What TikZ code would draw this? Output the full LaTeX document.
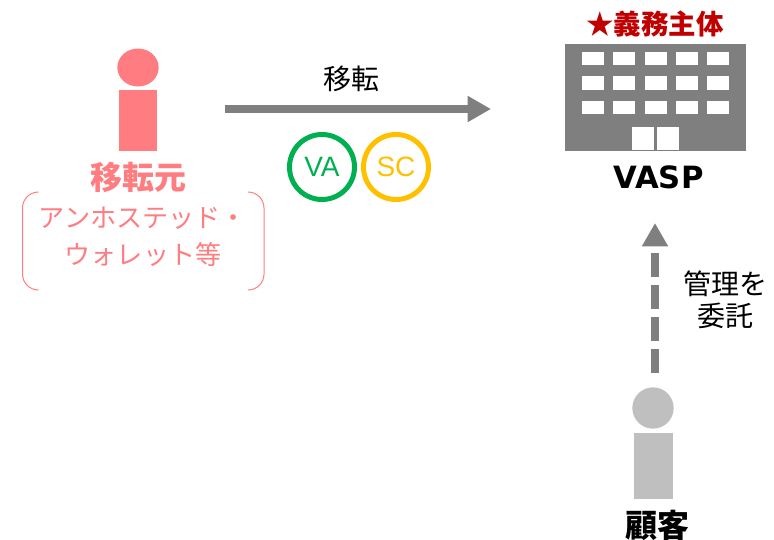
\documentclass[tikz,border=0pt]{standalone}
\usepackage{fontspec}
\setmainfont{Noto Sans CJK JP}
\newfontfamily\latinfont{Liberation Sans}
\newfontfamily\vaspfont{DejaVu Sans}
\usetikzlibrary{arrows.meta,shapes.geometric}
\definecolor{srcpink}{HTML}{FF7C80}
\definecolor{linegray}{HTML}{7F7F7F}
\definecolor{custgray}{HTML}{BFBFBF}
\definecolor{vagreen}{HTML}{00B050}
\definecolor{scgold}{HTML}{FFC000}
\definecolor{dutyred}{HTML}{C00000}
\tikzstyle{head} = [ellipse, draw=none, inner sep=0pt]
\tikzstyle{body} = [rectangle, draw=none, inner sep=0pt]
\tikzstyle{token} = [circle, draw, line width=3.75pt, inner sep=0pt,
    minimum size=48.75pt, font=\fontsize{21}{25}\selectfont\latinfont]
\tikzstyle{pane} = [rectangle, fill=white, inner sep=0pt]
\tikzstyle{plain} = [font=\fontsize{21}{25}\selectfont, inner sep=0pt]
\tikzstyle{strong} = [font=\fontsize{24}{28}\selectfont\bfseries, inner sep=0pt]
\tikzstyle{flow} = [draw=linegray, line width=6pt, -{Triangle[length=17.5pt,width=18.5pt]}]

\begin{document}
\begin{tikzpicture}[x=0.75pt,y=-0.75pt]
    \useasboundingbox (0,0) rectangle (774,539);
    % The sender on the left
    \node [head, fill=srcpink, minimum width=31pt, minimum height=28.5pt] (srchead) at (138,67.5) {};
    \node [body, fill=srcpink, minimum width=28.5pt, minimum height=46pt] (srcbody) at (138,120.5) {};
    \node [strong, text=srcpink] (srclabel) at (138,177) {移転元};
    \node [plain, font=\fontsize{19.6}{23.5}\selectfont, text=srcpink, align=center] (srcnote) at (143,237)
        {アンホステッド・\\[4pt]ウォレット等};
    \draw [srcpink, line width=0.75pt, rounded corners=12pt]
        (38.5,192) -- (22.5,192) -- (22.5,290) -- (38.5,290);
    \draw [srcpink, line width=0.75pt, rounded corners=12pt]
        (248,192) -- (264,192) -- (264,290) -- (248,290);

    % The transfer and what moves along it
    \coordinate (movestart) at (225,109);
    \coordinate (moveend) at (491,109);
    \draw [flow] (movestart) -- (moveend);
    \node [plain] (movelabel) at (351,79) {移転};
    \node [token, draw=vagreen, text=vagreen] (va) at (322,167) {VA};
    \node [token, draw=scgold, text=scgold] (sc) at (396,167) {SC};

    % The building, its windows and doors
    \node [body, fill=linegray, minimum width=135.5pt, minimum height=80.25pt] (vasp) at (655.25,97.5) {};
    \foreach \col/\xpos in {1/593,2/624.3,3/655.6,4/687,5/718}
        \foreach \row/\ypos in {1/58.7,2/83,3/107.3}
            \node [pane, minimum width=16.5pt, minimum height=10pt] (win\col\row) at (\xpos,\ypos) {};
    \node [pane, minimum width=16.25pt, minimum height=17.5pt] (doorl) at (643.2,138.7) {};
    \node [pane, minimum width=16.25pt, minimum height=17.5pt] (doorr) at (668.3,138.7) {};
    \node [font=\fontsize{20.6}{25}\selectfont, text=dutyred, inner sep=0pt] (duty) at (655,24) {\bfseries ★義務主体};
    \node [font=\fontsize{23}{27}\selectfont\vaspfont\bfseries, inner sep=0pt] (vasplabel) at (658.5,177) {VASP};

    % The customer at the bottom
    \node [head, fill=custgray, minimum width=31pt, minimum height=31pt] (custhead) at (653,408) {};
    \node [body, fill=custgray, minimum width=29pt, minimum height=49pt] (custbody) at (653.5,466) {};
    \node [strong, text=black] (custlabel) at (657,525) {顧客};
    \coordinate (trustend) at (655,223);
    \coordinate (truststart) at (655,373);
    \draw [flow, dash pattern=on 18pt off 6pt] (truststart) -- (trustend);
    \node [plain, align=center] (trustlabel) at (725,299.5) {管理を\\[-1pt]委託};
\end{tikzpicture}
\end{document}
